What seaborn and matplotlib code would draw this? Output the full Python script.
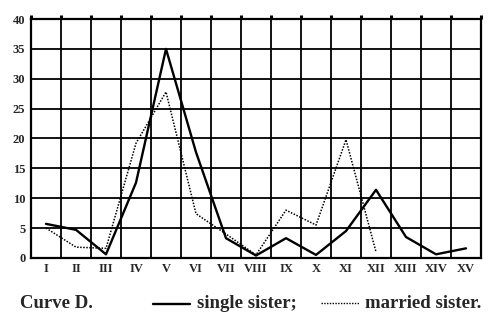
import matplotlib
matplotlib.use("Agg")
import matplotlib.pyplot as plt
import seaborn as sns
import pandas as pd
import numpy as np

categories = ["I", "II", "III", "IV", "V", "VI", "VII", "VIII", "IX", "X",
              "XI", "XII", "XIII", "XIV", "XV"]
single_sister = [5.7, 4.7, 0.6, 12.6, 35.0, 17.7, 3.3, 0.4, 3.3, 0.5,
                 4.5, 11.4, 3.5, 0.6, 1.6]
married_sister = [5.0, 1.8, 1.6, 19.2, 27.8, 7.4, 4.0, 0.5, 8.0, 5.5,
                  19.8, 1.0, np.nan, np.nan, np.nan]
y_ticks = [0, 5, 10, 15, 20, 25, 30, 35, 40]

df = pd.DataFrame({
    "pos": np.arange(len(categories)),
    "single": single_sister,
    "married": married_sister,
})

sns.set_style("white")
plt.rcParams["font.family"] = ["Liberation Serif", "DejaVu Serif"]

fig = plt.figure(figsize=(5.0, 3.18), dpi=100)
ax = fig.add_axes([0.062, 0.189, 0.900, 0.751])

sns.lineplot(data=df, x="pos", y="single", ax=ax, color="black",
             linewidth=1.7, linestyle="-")
sns.lineplot(data=df.dropna(), x="pos", y="married", ax=ax, color="black",
             linewidth=1.1, linestyle=(0, (1, 1)))

ax.set_xlim(-0.5, len(categories) - 0.5)
ax.set_ylim(0, 40)
ax.set_xticks(np.arange(len(categories)))
ax.set_xticklabels(categories, fontsize=9, fontweight="bold")
ax.set_xticks(np.arange(len(categories) + 1) - 0.5, minor=True)
ax.set_yticks(y_ticks)
ax.set_yticklabels([str(v) for v in y_ticks], fontsize=9, fontweight="bold")
ax.grid(False)
ax.grid(True, which="minor", axis="x", color="black", linewidth=1.3)
ax.grid(True, which="major", axis="y", color="black", linewidth=1.3)
ax.tick_params(axis="both", which="major", length=0, pad=4)
ax.tick_params(axis="x", which="minor", top=True, bottom=False, length=3,
               width=2.2, direction="out", color="black")
ax.set_xlabel("")
ax.set_ylabel("")
for s in ax.spines.values():
    s.set_color("black")
    s.set_linewidth(1.6)

fs = 13.5
fig.text(0.04, 0.03, "Curve D.", fontsize=fs, fontweight="bold",
         ha="left", va="baseline")
fig.lines.append(plt.Line2D([0.306, 0.38], [0.044, 0.044], transform=fig.transFigure,
                            color="black", linewidth=1.7))
fig.text(0.394, 0.03, "single sister;", fontsize=fs, fontweight="bold",
         ha="left", va="baseline")
fig.lines.append(plt.Line2D([0.642, 0.718], [0.046, 0.046], transform=fig.transFigure,
                            color="black", linewidth=1.0, linestyle=(0, (1, 1))))
fig.text(0.73, 0.03, "married sister.", fontsize=fs, fontweight="bold",
         ha="left", va="baseline")

fig.savefig("out.png", dpi=100, facecolor="white")
